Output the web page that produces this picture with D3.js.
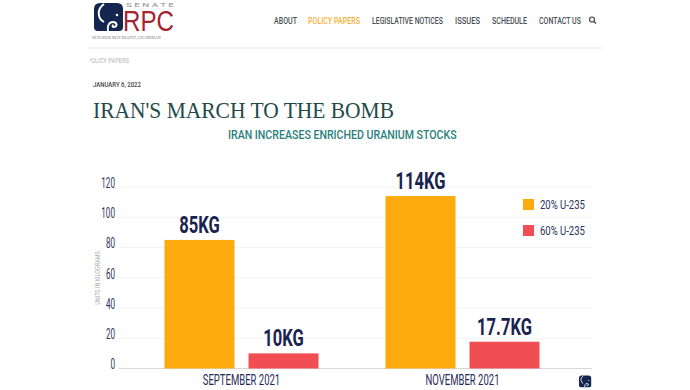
<!DOCTYPE html>
<html><head><meta charset="utf-8">
<style>html,body{margin:0;padding:0;background:#fff}svg{display:block}
text{font-family:Roboto,sans-serif}</style>
<script src="https://cdn.jsdelivr.net/npm/d3@7"></script></head><body>
<svg id="c" width="690" height="390"></svg>
<script>
const categories=["SEPTEMBER 2021","NOVEMBER 2021"];
const seriesNames=["20% U-235","60% U-235"];
const values20=[85,114];
const values60=[10,17.7];
const valueLabels20=["85KG","114KG"];
const valueLabels60=["10KG","17.7KG"];
const yTicks=[0,20,40,60,80,100,120];
const navItems=["ABOUT","POLICY PAPERS","LEGISLATIVE NOTICES","ISSUES","SCHEDULE","CONTACT US"];
const colors=["#FFAB0F","#F14E54"];

const svg=d3.select("#c");
const navy="#1A2350";
// text squeezed horizontally to a target width (the reference uses a condensed face)
function T(s,x,y,size,fill,w,opt={}){
  const t=svg.append("text").attr("font-size",size).attr("fill",fill)
   .attr("font-weight",opt.weight||"normal").text(s);
  if(opt.family)t.style("font-family",opt.family);
  const n=t.node().getComputedTextLength();
  t.attr("transform",`translate(${x},${y}) scale(${w/n},1)`);
  return t;
}
function elephant(x,y,s){
  const g=svg.append("g").attr("transform",`translate(${x},${y}) scale(${s})`);
  g.append("path").attr("d","M6 0 H23 Q29 0 29 6 V24 Q29 28 25 28 H4 Q0 28 0 24 V6 Q0 0 6 0 Z").attr("fill","#14264F");
  g.append("path").attr("d","M10 1 C3 6 3 15 10 19").attr("fill","none").attr("stroke","#fff").attr("stroke-width",2);
  g.append("path").attr("d","M14 28 C13 23 15 19 19 19 C23 19 24 24 20 24 C18.5 24 18 22.5 19.5 22").attr("fill","none").attr("stroke","#fff").attr("stroke-width",2);
  g.append("circle").attr("cx",23).attr("cy",12).attr("r",1.3).attr("fill","#fff");
  return g;
}
// header
elephant(94,3,1);
T("S E N A T E",126,7,5,"#8a8f96",48,{});
T("RPC",123,31,29,"#A5242F",51,{family:"Liberation Sans"});
T("SENATOR ROY BLUNT, CHAIRMAN",92,39,3.6,"#777",69,{family:"Liberation Serif"});
const navX=[[274,23],[308,52],[372,71],[455,25],[492,35],[539,42]];
navItems.forEach((n,i)=>T(n,navX[i][0],24,9.5,i===1?"#F9B03A":"#4a4f55",navX[i][1],{weight:"500"}));
const sg=svg.append("g").attr("fill","none").attr("stroke","#444").attr("stroke-width",1.2);
sg.append("circle").attr("cx",592).attr("cy",19.5).attr("r",2.5);
sg.append("line").attr("x1",594).attr("y1",21.5).attr("x2",596).attr("y2",23.5);
svg.append("rect").attr("x",88).attr("y",47).attr("width",514).attr("height",2).attr("fill","#f2f2f2");
svg.append("defs").append("clipPath").attr("id","cp").append("rect").attr("x",3).attr("y",-10).attr("width",70).attr("height",20);
T("POLICY PAPERS",87.5,63,7,"#b5b5b5",41.5).attr("clip-path","url(#cp)");
T("JANUARY 6, 2022",93,87,7.5,"#444",48,{weight:"500"});
T("IRAN'S MARCH TO THE BOMB",93,117.5,23,"#1E4A4A",301,{family:"Liberation Serif"});
T("IRAN INCREASES ENRICHED URANIUM STOCKS",228,138.5,13.5,"#2A7F7D",229,{weight:"500"});

// chart
const y=d3.scaleLinear().domain([0,120]).range([368.5,187]);
const x0=d3.scaleBand().domain(categories).range([131,573]).paddingInner(0.303).paddingOuter(0.1515);
const x1=d3.scaleBand().domain(seriesNames).range([0,x0.bandwidth()]).paddingInner(0.1667);
const gL=119,gR=592;
svg.append("g").selectAll("line").data(yTicks).join("line")
  .attr("x1",gL).attr("x2",gR).attr("y1",d=>y(d)).attr("y2",d=>y(d))
  .attr("stroke",d=>d===0?"#d8d8dc":"#f2f2f2").attr("stroke-width",1);
const ya=svg.append("g").attr("transform","translate(115,0)")
  .call(d3.axisLeft(y).tickValues(yTicks).tickSize(0).tickPadding(0));
ya.select(".domain").remove();
ya.selectAll("text").attr("x",0).attr("font-size",14).attr("fill","#2B3560").style("font-family","Roboto")
  .attr("transform","translate(0,-4) scale(0.58,1)");
const xa=svg.append("g").attr("transform","translate(0,368.5)")
  .call(d3.axisBottom(x0).tickSize(0).tickPadding(6));
xa.select(".domain").remove();
xa.selectAll("text").attr("font-size",14).attr("fill","#1F2A58").style("font-family","Roboto")
  .attr("y",7).attr("transform","scale(0.68,1)");
const groups=svg.append("g").selectAll("g").data(categories).join("g")
  .attr("transform",d=>`translate(${x0(d)},0)`);
const rows=[values20,values60], lab=[valueLabels20,valueLabels60];
groups.each(function(c,ci){
  const g=d3.select(this);
  seriesNames.forEach((s,si)=>{
    const v=rows[si][ci];
    g.append("rect").attr("x",x1(s)).attr("y",y(v)).attr("width",x1.bandwidth())
      .attr("height",y(0)-y(v)).attr("fill",colors[si]);
    g.append("text").attr("transform",`translate(${x1(s)+x1.bandwidth()/2},${y(v)-7}) scale(0.72,1)`)
      .attr("text-anchor","middle").attr("font-size",23).attr("font-weight","bold")
      .attr("fill",navy).text(lab[si][ci]);
  });
});
svg.append("text").attr("transform","translate(100,278) rotate(-90) scale(0.78,1)").attr("text-anchor","middle")
  .attr("font-size",7).attr("fill","#a8a8a8").text("UNITS IN KILOGRAMS");
const lg=d3.scaleOrdinal().domain(seriesNames).range([199,225]);
seriesNames.forEach((s,i)=>{
  svg.append("rect").attr("x",523).attr("y",lg(s)).attr("width",11).attr("height",11).attr("fill",colors[i]);
  T(s,540,lg(s)+10,13,"#2B3560",45);
});
elephant(579,375.5,0.42);
</script></body></html>
